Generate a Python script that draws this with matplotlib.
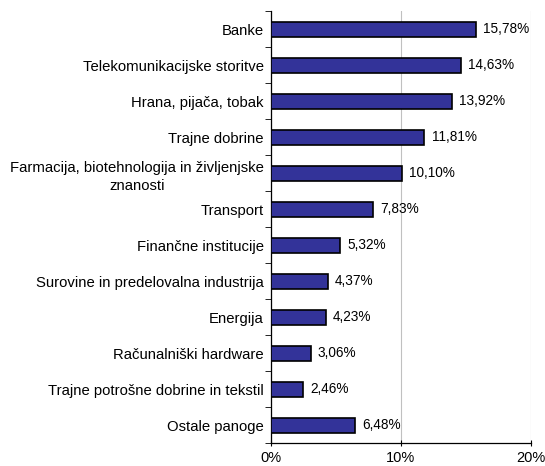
import matplotlib.pyplot as plt
import numpy as np

plt.rcParams['font.family'] = ['Liberation Sans', 'DejaVu Sans']

panoge = ["Banke", "Telekomunikacijske storitve", "Hrana, pijača, tobak",
          "Trajne dobrine",
          "Farmacija, biotehnologija in življenjske\nznanosti",
          "Transport", "Finančne institucije",
          "Surovine in predelovalna industrija", "Energija",
          "Računalniški hardware", "Trajne potrošne dobrine in tekstil",
          "Ostale panoge"]
delezi = [15.78, 14.63, 13.92, 11.81, 10.10, 7.83, 5.32, 4.37, 4.23, 3.06, 2.46, 6.48]

fig = plt.figure(figsize=(5.45, 4.66), dpi=100)
ax = fig.add_axes([0.497, 0.049, 0.477, 0.927])

y = np.arange(len(panoge))
ax.barh(y, delezi, height=0.42, color='#333399', edgecolor='black', linewidth=1.2, zorder=3)

for yi, v in zip(y, delezi):
    ax.text(v + 0.55, yi, ("%.2f" % v).replace('.', ',') + '%', va='center', ha='left', fontsize=9.8)

ax.set_ylim(len(panoge) - 0.5, -0.5)
ax.set_xlim(0, 20)
ax.set_xticks([0, 10, 20])
ax.set_xticklabels(['0%', '10%', '20%'], fontsize=10.5)
ax.set_yticks(y)
ax.set_yticklabels(panoge, fontsize=10.7, multialignment='center', linespacing=1.35)
ax.tick_params(axis='y', length=0, pad=5)
ax.set_yticks(np.arange(len(panoge) + 1) - 0.5, minor=True)
ax.tick_params(axis='y', which='minor', length=4, direction='out')
ax.tick_params(axis='x', length=4, direction='inout', pad=4)

ax.grid(axis='x', color='#c0c0c0', linewidth=0.8, zorder=0)
ax.spines['top'].set_visible(False)
ax.spines['right'].set_visible(False)
ax.spines['left'].set_linewidth(0.9)
ax.spines['bottom'].set_linewidth(0.9)

fig.savefig('out.png', dpi=100)
